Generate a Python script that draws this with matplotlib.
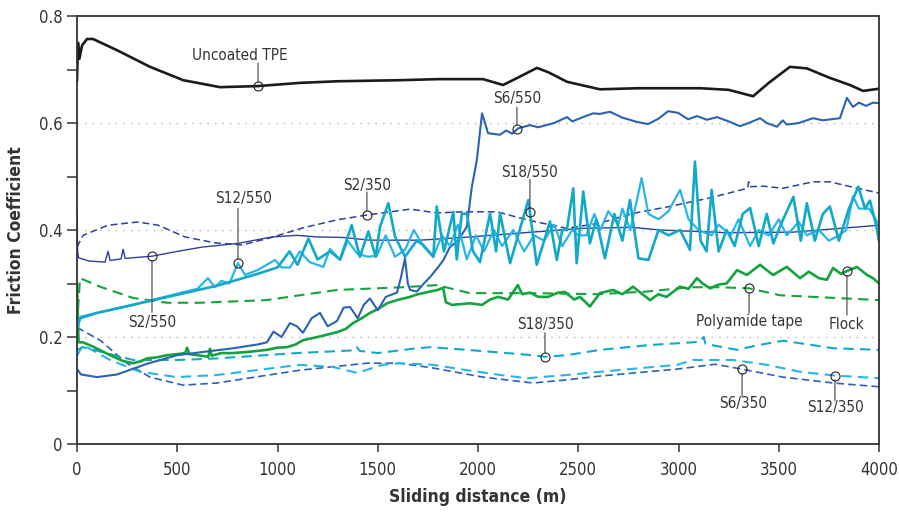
import numpy as np
import matplotlib
matplotlib.use("Agg")
import matplotlib.pyplot as plt
from matplotlib import font_manager
from matplotlib.ticker import MultipleLocator, FixedLocator

# pick a narrow sans face if one is available
_names = {f.name for f in font_manager.fontManager.ttflist}
_narrow = [f for f in font_manager.fontManager.ttflist
           if ('Narrow' in f.name or 'Condensed' in f.name or f.stretch in ('condensed', 'semi-condensed'))]
FONT_STRETCH = 'normal'
if 'Liberation Sans Narrow' in _names:
    FAMILY = 'Liberation Sans Narrow'
elif _narrow:
    FAMILY = _narrow[0].name
    FONT_STRETCH = 'condensed'
else:
    FAMILY = 'Roboto' if 'Roboto' in _names else 'Liberation Sans'
plt.rcParams['font.family'] = [FAMILY, 'DejaVu Sans']
plt.rcParams['font.stretch'] = FONT_STRETCH

# ---- friction coefficient vs sliding distance (m) ----
tpe_x = [0, 5, 12, 25, 50, 80, 200, 364, 530, 713, 903, 1112, 1300, 1611, 1800, 2025, 2125, 2200,
         2294, 2350, 2444, 2608, 2800, 3107, 3250, 3372, 3450, 3556, 3641, 3750, 3855, 3920, 4000]
tpe_y = [0.68, 0.75, 0.72, 0.745, 0.757, 0.757, 0.736, 0.705, 0.68, 0.667, 0.669, 0.675, 0.678, 0.68,
         0.682, 0.682, 0.671, 0.685, 0.703, 0.695, 0.677, 0.663, 0.665, 0.665, 0.662, 0.650, 0.675,
         0.705, 0.702, 0.685, 0.671, 0.66, 0.664]

s6_550_x = [0, 20, 100, 200, 350, 500, 650, 780, 900, 947, 980, 1000, 1020, 1062, 1097, 1127, 1170,
            1212, 1250, 1297, 1330, 1362, 1400, 1430, 1461, 1500, 1540, 1596, 1615, 1636, 1650, 1661,
            1695, 1730, 1761, 1800, 1826, 1860, 1900, 1944, 1969, 1994, 2020, 2035, 2050, 2110, 2140,
            2170, 2200, 2259, 2300, 2380, 2444, 2470, 2530, 2574, 2608, 2658, 2720, 2793, 2848, 2900,
            2948, 2998, 3048, 3092, 3142, 3192, 3250, 3307, 3350, 3407, 3440, 3491, 3520, 3540, 3600,
            3671, 3720, 3805, 3840, 3870, 3900, 3935, 3970, 4000]
s6_550_y = [0.14, 0.13, 0.125, 0.13, 0.15, 0.166, 0.173, 0.179, 0.186, 0.19, 0.21, 0.205, 0.2, 0.226,
            0.22, 0.208, 0.235, 0.245, 0.22, 0.23, 0.255, 0.256, 0.235, 0.26, 0.272, 0.25, 0.275, 0.283,
            0.31, 0.347, 0.3, 0.288, 0.285, 0.30, 0.312, 0.33, 0.343, 0.368, 0.38, 0.406, 0.48, 0.53,
            0.618, 0.60, 0.581, 0.578, 0.586, 0.58, 0.59, 0.596, 0.592, 0.60, 0.611, 0.603, 0.612,
            0.618, 0.617, 0.621, 0.61, 0.602, 0.598, 0.608, 0.622, 0.619, 0.607, 0.613, 0.606, 0.611,
            0.603, 0.594, 0.60, 0.609, 0.60, 0.593, 0.605, 0.597, 0.60, 0.609, 0.605, 0.609, 0.647,
            0.63, 0.638, 0.632, 0.638, 0.637]

s2_550_x = [0, 3, 8, 60, 140, 155, 165, 220, 230, 240, 374, 500, 623, 803, 972, 1097, 1200, 1330,
            1461, 1711, 1960, 2269, 2519, 2768, 2908, 3242, 3571, 3905, 4000]
s2_550_y = [0.44, 0.36, 0.348, 0.342, 0.34, 0.36, 0.343, 0.346, 0.364, 0.347, 0.351, 0.36, 0.368,
            0.375, 0.387, 0.39, 0.387, 0.386, 0.381, 0.381, 0.387, 0.396, 0.403, 0.405, 0.4, 0.395,
            0.396, 0.406, 0.409]

s2_350_x = [0, 30, 155, 304, 404, 539, 688, 823, 960, 1127, 1297, 1446, 1661, 1795, 1925, 2095, 2244,
            2444, 2608, 2773, 2943, 3157, 3345, 3350, 3357, 3422, 3521, 3671, 3755, 3870, 4000]
s2_350_y = [0.368, 0.39, 0.409, 0.415, 0.409, 0.387, 0.376, 0.372, 0.385, 0.404, 0.419, 0.428, 0.439,
            0.432, 0.434, 0.434, 0.419, 0.403, 0.413, 0.431, 0.443, 0.46, 0.478, 0.49, 0.481, 0.482,
            0.478, 0.49, 0.49, 0.48, 0.469]

s18_550_x = [0, 15, 100, 300, 500, 700, 900, 1000, 1060, 1100, 1154, 1200, 1262, 1312, 1370, 1411,
             1453, 1490, 1511, 1553, 1586, 1636, 1694, 1727, 1777, 1794, 1830, 1877, 1894, 1919, 1944,
             1975, 2010, 2060, 2090, 2110, 2160, 2200, 2251, 2293, 2330, 2359, 2393, 2420, 2443, 2475,
             2492, 2525, 2558, 2590, 2633, 2680, 2720, 2758, 2800, 2850, 2900, 2950, 3008, 3057, 3082,
             3110, 3140, 3165, 3200, 3240, 3280, 3320, 3357, 3400, 3440, 3473, 3510, 3573, 3610, 3640,
             3680, 3720, 3755, 3800, 3850, 3897, 3930, 3955, 3985, 4000]
s18_550_y = [0.215, 0.235, 0.245, 0.262, 0.279, 0.296, 0.318, 0.33, 0.36, 0.335, 0.384, 0.345, 0.36,
             0.345, 0.409, 0.35, 0.397, 0.35, 0.406, 0.45, 0.388, 0.35, 0.38, 0.372, 0.35, 0.444, 0.36,
             0.434, 0.345, 0.43, 0.431, 0.36, 0.34, 0.431, 0.36, 0.431, 0.338, 0.39, 0.456, 0.335,
             0.38, 0.416, 0.344, 0.40, 0.40, 0.478, 0.338, 0.472, 0.375, 0.42, 0.347, 0.43, 0.38, 0.456,
             0.347, 0.344, 0.40, 0.39, 0.40, 0.363, 0.528, 0.38, 0.36, 0.475, 0.36, 0.40, 0.37, 0.43,
             0.441, 0.37, 0.43, 0.375, 0.41, 0.462, 0.38, 0.45, 0.38, 0.43, 0.444, 0.38, 0.44, 0.481,
             0.44, 0.455, 0.41, 0.38]

s12_550_x = [0, 20, 100, 280, 500, 600, 653, 688, 720, 760, 803, 838, 900, 988, 1020, 1062, 1112, 1160,
             1229, 1262, 1312, 1350, 1400, 1453, 1495, 1540, 1586, 1636, 1680, 1727, 1777, 1820, 1860,
             1900, 1944, 1990, 2030, 2080, 2120, 2176, 2230, 2280, 2330, 2380, 2420, 2470, 2500, 2540,
             2580, 2610, 2650, 2700, 2720, 2760, 2816, 2850, 2900, 2950, 3008, 3050, 3100, 3165, 3200,
             3260, 3300, 3357, 3400, 3450, 3500, 3540, 3600, 3640, 3700, 3750, 3800, 3837, 3870, 3900,
             3950, 4000]
s12_550_y = [0.22, 0.238, 0.245, 0.26, 0.281, 0.29, 0.31, 0.293, 0.305, 0.30, 0.338, 0.316, 0.325,
             0.344, 0.330, 0.33, 0.36, 0.34, 0.331, 0.365, 0.344, 0.38, 0.355, 0.35, 0.352, 0.39, 0.35,
             0.363, 0.40, 0.37, 0.35, 0.39, 0.37, 0.41, 0.345, 0.39, 0.36, 0.40, 0.37, 0.40, 0.36, 0.39,
             0.38, 0.41, 0.37, 0.40, 0.39, 0.39, 0.43, 0.40, 0.435, 0.41, 0.44, 0.40, 0.497, 0.43, 0.42,
             0.435, 0.475, 0.42, 0.40, 0.39, 0.41, 0.39, 0.42, 0.37, 0.40, 0.39, 0.42, 0.39, 0.415,
             0.39, 0.40, 0.38, 0.39, 0.40, 0.463, 0.44, 0.44, 0.41]

flock_x = [0, 8, 30, 80, 165, 230, 280, 320, 349, 400, 449, 500, 540, 549, 560, 620, 655, 663, 672,
           720, 778, 850, 900, 947, 1000, 1047, 1090, 1127, 1200, 1297, 1340, 1377, 1420, 1461, 1500,
           1546, 1596, 1661, 1700, 1726, 1760, 1800, 1826, 1840, 1870, 1960, 2020, 2060, 2100, 2150,
           2199, 2220, 2260, 2300, 2349, 2400, 2434, 2480, 2509, 2558, 2608, 2673, 2720, 2773, 2810,
           2858, 2900, 2940, 3007, 3050, 3092, 3120, 3157, 3200, 3240, 3292, 3341, 3407, 3440, 3472,
           3540, 3606, 3650, 3700, 3740, 3771, 3810, 3850, 3890, 3940, 3970, 4000]
flock_y = [0.30, 0.19, 0.19, 0.182, 0.166, 0.155, 0.151, 0.155, 0.16, 0.162, 0.166, 0.168, 0.17, 0.18,
           0.168, 0.165, 0.163, 0.178, 0.165, 0.17, 0.17, 0.172, 0.174, 0.176, 0.18, 0.181, 0.186,
           0.194, 0.2, 0.209, 0.215, 0.226, 0.235, 0.245, 0.252, 0.263, 0.269, 0.275, 0.28, 0.282,
           0.285, 0.288, 0.292, 0.265, 0.26, 0.263, 0.26, 0.27, 0.275, 0.27, 0.297, 0.28, 0.283, 0.275,
           0.275, 0.283, 0.284, 0.27, 0.275, 0.257, 0.282, 0.288, 0.28, 0.294, 0.283, 0.269, 0.28,
           0.275, 0.294, 0.29, 0.31, 0.30, 0.291, 0.298, 0.30, 0.325, 0.316, 0.335, 0.325, 0.316,
           0.331, 0.31, 0.322, 0.31, 0.307, 0.329, 0.318, 0.325, 0.331, 0.316, 0.31, 0.30]

poly_x = [0, 15, 115, 280, 449, 613, 947, 1112, 1297, 1626, 1795, 1960, 2269, 2599, 2843, 3057, 3207,
          3352, 3506, 3671, 4000]
poly_y = [0.22, 0.31, 0.294, 0.273, 0.264, 0.264, 0.269, 0.278, 0.288, 0.293, 0.297, 0.282, 0.282,
          0.28, 0.285, 0.293, 0.293, 0.291, 0.278, 0.275, 0.269]

s18_350_x = [0, 30, 280, 500, 700, 1097, 1380, 1396, 1410, 1500, 1695, 1761, 1945, 2110, 2274, 2334,
             2444, 2608, 2858, 3107, 3125, 3135, 3292, 3400, 3521, 3650, 3771, 4000]
s18_350_y = [0.176, 0.181, 0.157, 0.157, 0.16, 0.17, 0.175, 0.181, 0.174, 0.17, 0.179, 0.181, 0.176,
             0.171, 0.166, 0.163, 0.166, 0.176, 0.185, 0.191, 0.20, 0.187, 0.176, 0.185, 0.193, 0.186,
             0.179, 0.176]

s12_350_x = [0, 30, 165, 314, 499, 698, 1112, 1277, 1396, 1526, 1611, 1776, 1945, 2110, 2244, 2444,
             2608, 2993, 3072, 3272, 3441, 3606, 3780, 4000]
s12_350_y = [0.165, 0.185, 0.157, 0.135, 0.125, 0.129, 0.148, 0.144, 0.133, 0.148, 0.151, 0.148,
             0.138, 0.129, 0.123, 0.129, 0.135, 0.148, 0.157, 0.157, 0.148, 0.135, 0.128, 0.123]

s6_350_x = [0, 115, 249, 364, 529, 698, 1112, 1446, 1611, 1776, 2025, 2274, 2444, 2608, 2993, 3182,
            3317, 3521, 3771, 4000]
s6_350_y = [0.218, 0.194, 0.151, 0.125, 0.110, 0.114, 0.138, 0.151, 0.151, 0.142, 0.125, 0.114, 0.12,
            0.127, 0.14, 0.149, 0.14, 0.125, 0.114, 0.107]

# ---- styling ----
navy = '#2f3f9c'
mid_blue = '#2b62b4'
sky = '#2ab5e8'
cyan = '#12a9c9'
green = '#14a33f'
black = '#1b1b1b'

series = {
    'Uncoated TPE': (tpe_x, tpe_y, dict(color=black, lw=1.9, ls='-')),
    'S2/550': (s2_550_x, s2_550_y, dict(color=navy, lw=1.0, ls='-')),
    'S2/350': (s2_350_x, s2_350_y, dict(color=navy, lw=1.1, ls=(0, (4.5, 2.5)))),
    'S12/550': (s12_550_x, s12_550_y, dict(color=sky, lw=1.6, ls='-')),
    'S18/550': (s18_550_x, s18_550_y, dict(color=cyan, lw=1.9, ls='-')),
    'S6/550': (s6_550_x, s6_550_y, dict(color=mid_blue, lw=1.5, ls='-')),
    'Polyamide tape': (poly_x, poly_y, dict(color=green, lw=1.5, ls=(0, (5, 3)))),
    'Flock': (flock_x, flock_y, dict(color=green, lw=1.9, ls='-')),
    'S18/350': (s18_350_x, s18_350_y, dict(color=cyan, lw=1.5, ls=(0, (5, 3)))),
    'S12/350': (s12_350_x, s12_350_y, dict(color=sky, lw=1.5, ls=(0, (5, 3)))),
    'S6/350': (s6_350_x, s6_350_y, dict(color=mid_blue, lw=1.2, ls=(0, (4.5, 2.5)))),
}

# label placement: anchor distance, text centre offset (px) and leader length (px)
labels = [
    ('Uncoated TPE', 903, (-18, 31), 23),
    ('S6/550', 2194, (0, 31), 22),
    ('S2/350', 1446, (0, 30), 23),
    ('S18/550', 2259, (0, 40), 33),
    ('S12/550', 803, (6, 65), 55),
    ('S2/550', 374, (0, -66), -56),
    ('S18/350', 2334, (0, 32), 24),
    ('Polyamide tape', 3352, (0, -33), -25),
    ('Flock', 3840, (0, -53), -44),
    ('S6/350', 3317, (1, -34), -27),
    ('S12/350', 3780, (1, -32), -25),
]

narrow = FAMILY != 'Roboto' and FAMILY != 'Liberation Sans'
LBL = 11 if narrow else 10
TICK = 12 if narrow else 11
AXL = 12.5 if narrow else 11.5

DPI = 100
fig = plt.figure(figsize=(8.99, 5.13), dpi=DPI)
ax = fig.add_axes([77 / 899, 1 - 444 / 513, (879 - 77) / 899, (444 - 16) / 513])

for val in (0.2, 0.4, 0.6):
    ax.axhline(val, color='#b5b5b5', lw=1.0, ls=(0, (1, 4.5)), zorder=0.5)

draw_order = ['S6/350', 'S12/350', 'S18/350', 'Polyamide tape', 'Flock', 'S2/350', 'S2/550',
              'S6/550', 'S12/550', 'S18/550', 'Uncoated TPE']
for name in draw_order:
    xs, ys, st = series[name]
    ax.plot(xs, ys, solid_joinstyle='round', dash_capstyle='butt', **st)

px2pt = 72.0 / DPI
text_color = '#333333'
for name, xa, (dx, dy), lead in labels:
    xs, ys, _ = series[name]
    ya = float(np.interp(xa, xs, ys))
    ax.annotate('', xy=(xa, ya), xytext=(0, lead * px2pt), textcoords='offset points',
                arrowprops=dict(arrowstyle='-', color='#555555', lw=0.9, shrinkA=0, shrinkB=3.2),
                zorder=6)
    ax.plot([xa], [ya], marker='o', ms=6.5, mfc='none', mec='#222222', mew=0.8, zorder=7)
    ax.annotate(name, xy=(xa, ya), xytext=(dx * px2pt, dy * px2pt), textcoords='offset points',
                ha='center', va='center', fontsize=LBL, color=text_color, zorder=8)

ax.set_xlim(0, 4000)
ax.set_ylim(0, 0.8)
ax.xaxis.set_major_locator(MultipleLocator(500))
ax.yaxis.set_major_locator(FixedLocator([0, 0.2, 0.4, 0.6, 0.8]))
ax.yaxis.set_minor_locator(FixedLocator([0.1, 0.3, 0.5, 0.7]))
ax.set_yticklabels(['0', '0.2', '0.4', '0.6', '0.8'])

spine_c = '#333333'
for sp in ax.spines.values():
    sp.set_color(spine_c)
    sp.set_linewidth(1.3)
ax.tick_params(axis='both', which='both', direction='out', color='#444444', width=1.2,
               labelsize=TICK, labelcolor=text_color)
ax.tick_params(axis='y', which='both', length=7.5, pad=3)
ax.tick_params(axis='x', which='major', length=6, pad=6)

ax.set_xlabel('Sliding distance (m)', fontsize=AXL, fontweight='bold', color=text_color, labelpad=7)
ax.set_ylabel('Friction Coefficient', fontsize=AXL, fontweight='bold', color=text_color, labelpad=10)

fig.savefig('out.png', dpi=DPI)
